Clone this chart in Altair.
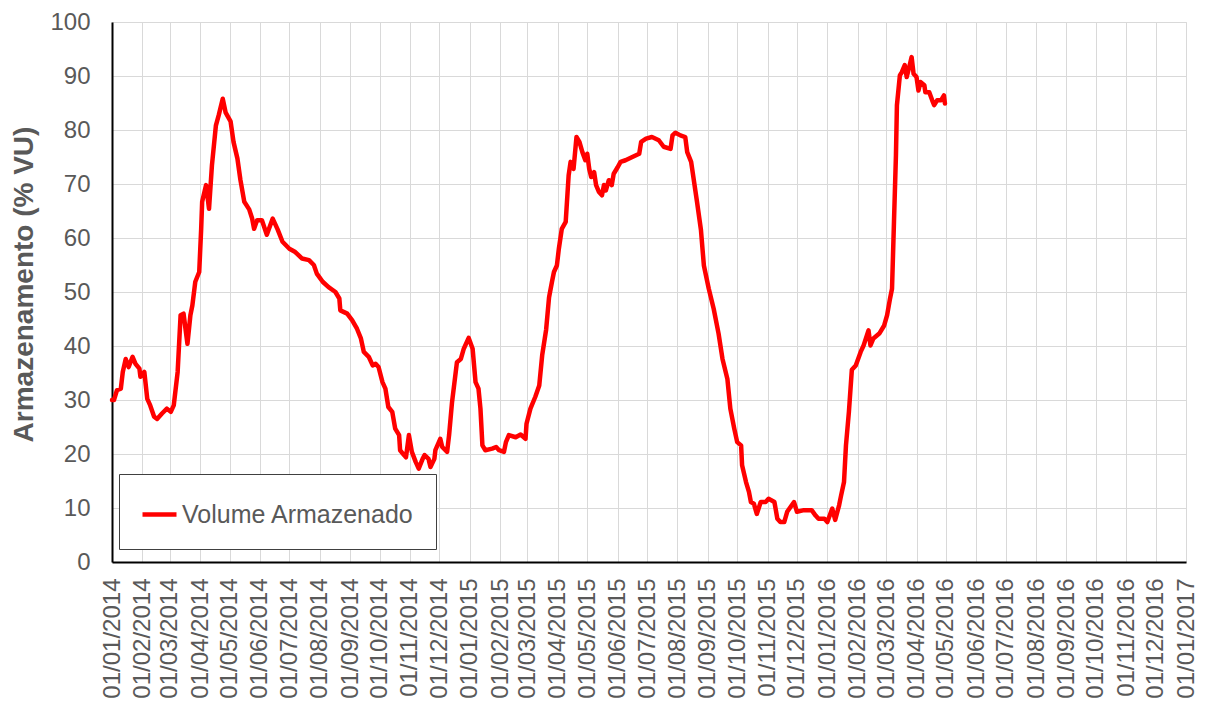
import altair as alt
import pandas as pd

dates_2014 = [
    "2014-01-01", "2014-01-03", "2014-01-06", "2014-01-10", "2014-01-12", "2014-01-15", "2014-01-18",
    "2014-01-22", "2014-01-25", "2014-01-29", "2014-01-30", "2014-02-03", "2014-02-06", "2014-02-09",
    "2014-02-13", "2014-02-16", "2014-02-21", "2014-02-26", "2014-03-02", "2014-03-05", "2014-03-09",
    "2014-03-12", "2014-03-15", "2014-03-19", "2014-03-22", "2014-03-24", "2014-03-27", "2014-03-31",
    "2014-04-02", "2014-04-03", "2014-04-07", "2014-04-10", "2014-04-13", "2014-04-17", "2014-04-20",
    "2014-04-24", "2014-04-27", "2014-05-02", "2014-05-05", "2014-05-09", "2014-05-12", "2014-05-16",
    "2014-05-21", "2014-05-24", "2014-05-26", "2014-05-29", "2014-06-03", "2014-06-08", "2014-06-14",
    "2014-06-19", "2014-06-24", "2014-07-01", "2014-07-07", "2014-07-14", "2014-07-21", "2014-07-26",
    "2014-07-29", "2014-08-04", "2014-08-10", "2014-08-17", "2014-08-21", "2014-08-22", "2014-08-29",
    "2014-09-03", "2014-09-08", "2014-09-12", "2014-09-15", "2014-09-20", "2014-09-24", "2014-09-27",
    "2014-09-30", "2014-10-04", "2014-10-07", "2014-10-10", "2014-10-14", "2014-10-17", "2014-10-21",
    "2014-10-22", "2014-10-26", "2014-10-28", "2014-10-31", "2014-11-03", "2014-11-07", "2014-11-10",
    "2014-11-14", "2014-11-16", "2014-11-20", "2014-11-22", "2014-11-26", "2014-11-27", "2014-12-02",
    "2014-12-04", "2014-12-09", "2014-12-11", "2014-12-14", "2014-12-19", "2014-12-23", "2014-12-26",
    "2014-12-31",
]
values_2014 = [
    30.0, 30.0, 31.8, 32.1, 35.2, 37.6, 36.1,
    38.0, 36.7, 35.8, 34.3, 35.2, 30.2, 29.0,
    26.9, 26.5, 27.5, 28.4, 27.8, 29.0, 35.2,
    45.7, 46.0, 40.4, 45.7, 47.5, 51.9, 53.7,
    61.7, 66.7, 69.8, 65.4, 73.5, 80.8, 82.8,
    85.8, 83.2, 81.6, 77.8, 74.7, 70.8, 66.7,
    65.3, 63.6, 61.7, 63.3, 63.3, 60.6, 63.6,
    61.6, 59.3, 58.0, 57.4, 56.2, 55.9, 55.0,
    53.4, 51.9, 50.9, 50.0, 48.8, 46.6, 46.0,
    44.8, 43.2, 41.4, 38.9, 38.0, 36.4, 36.7,
    36.1, 33.3, 32.1, 28.7, 27.8, 24.7, 23.5,
    20.7, 19.8, 19.4, 23.5, 20.4, 18.5, 17.3,
    19.1, 19.8, 19.1, 17.6, 19.1, 20.7, 22.8,
    21.3, 20.4, 23.5, 29.6, 37.0, 37.6, 39.5,
    41.5,
]

dates_2015 = [
    "2015-01-04", "2015-01-07", "2015-01-10", "2015-01-12", "2015-01-14", "2015-01-17", "2015-01-24",
    "2015-01-28", "2015-01-31", "2015-02-05", "2015-02-07", "2015-02-10", "2015-02-17", "2015-02-22",
    "2015-02-27", "2015-02-28", "2015-03-04", "2015-03-09", "2015-03-13", "2015-03-16", "2015-03-20",
    "2015-03-23", "2015-03-26", "2015-03-28", "2015-03-31", "2015-04-02", "2015-04-05", "2015-04-09",
    "2015-04-12", "2015-04-14", "2015-04-17", "2015-04-20", "2015-04-23", "2015-04-26", "2015-04-29",
    "2015-05-01", "2015-05-03", "2015-05-05", "2015-05-08", "2015-05-10", "2015-05-13", "2015-05-16",
    "2015-05-18", "2015-05-20", "2015-05-23", "2015-05-26", "2015-05-28", "2015-06-01", "2015-06-04",
    "2015-06-09", "2015-06-16", "2015-06-23", "2015-06-25", "2015-06-30", "2015-07-06", "2015-07-13",
    "2015-07-18", "2015-07-25", "2015-07-27", "2015-07-30", "2015-08-04", "2015-08-09", "2015-08-11",
    "2015-08-15", "2015-08-18", "2015-08-21", "2015-08-25", "2015-08-28", "2015-09-02", "2015-09-07",
    "2015-09-12", "2015-09-16", "2015-09-21", "2015-09-24", "2015-09-28", "2015-10-01", "2015-10-05",
    "2015-10-06", "2015-10-10", "2015-10-13", "2015-10-15", "2015-10-18", "2015-10-21", "2015-10-25",
    "2015-10-30", "2015-11-02", "2015-11-08", "2015-11-11", "2015-11-14", "2015-11-18", "2015-11-21",
    "2015-11-28", "2015-12-01", "2015-12-08", "2015-12-16", "2015-12-20", "2015-12-23", "2015-12-29",
]
values_2015 = [
    39.5, 33.3, 32.1, 28.4, 21.6, 20.7, 21.0,
    21.3, 20.7, 20.4, 22.2, 23.5, 23.1, 23.6,
    22.8, 25.6, 28.4, 30.6, 32.7, 38.3, 43.0,
    49.0, 51.9, 53.7, 54.9, 58.0, 61.7, 63.0,
    71.6, 74.1, 72.8, 78.7, 77.8, 75.9, 74.4,
    75.6, 72.8, 71.3, 72.2, 69.8, 68.5, 67.9,
    69.8, 68.8, 70.7, 69.8, 71.9, 73.1, 74.1,
    74.4, 75.0, 75.6, 77.8, 78.4, 78.7, 78.1,
    76.9, 76.5, 79.0, 79.5, 79.0, 78.7, 75.9,
    74.1, 70.4, 66.7, 61.5, 54.9, 50.6, 46.9,
    42.3, 37.6, 33.9, 28.4, 24.7, 22.2, 21.6,
    17.9, 14.8, 13.0, 11.1, 10.8, 8.9, 11.1,
    11.1, 11.7, 11.1, 8.0, 7.4, 7.4, 9.3,
    11.1, 9.3, 9.6, 9.6, 8.6, 8.0, 8.0,
]

dates_2016 = [
    "2016-01-01", "2016-01-06", "2016-01-09", "2016-01-13", "2016-01-15", "2016-01-18", "2016-01-20",
    "2016-01-23", "2016-01-26", "2016-01-30", "2016-02-04", "2016-02-07", "2016-02-12", "2016-02-14",
    "2016-02-17", "2016-02-23", "2016-02-28", "2016-03-02", "2016-03-05", "2016-03-07", "2016-03-09",
    "2016-03-11", "2016-03-12", "2016-03-15", "2016-03-17", "2016-03-20", "2016-03-22", "2016-03-25",
    "2016-03-27", "2016-03-29", "2016-04-01", "2016-04-03", "2016-04-05", "2016-04-09", "2016-04-10",
    "2016-04-14", "2016-04-17", "2016-04-19", "2016-04-22", "2016-04-26", "2016-04-29", "2016-04-30",
]
values_2016 = [
    7.4, 9.9, 7.8, 10.5, 12.3, 14.8, 21.6,
    27.8, 35.6, 36.4, 38.9, 40.1, 42.9, 40.1,
    41.4, 42.3, 43.8, 45.7, 48.8, 50.6, 63.0,
    75.3, 84.6, 90.1, 90.7, 92.0, 89.8, 92.0,
    93.5, 90.4, 89.8, 87.3, 88.9, 88.3, 87.0,
    87.0, 85.5, 84.6, 85.5, 85.5, 86.4, 84.9,
]

series_name = "Volume Armazenado"
y_title = "Armazenamento (% VU)"
y_ticks = list(range(0, 101, 10))
month_starts = pd.date_range("2014-01-01", "2017-01-01", freq="MS")

df = pd.DataFrame({
    "date": dates_2014 + dates_2015 + dates_2016,
    "value": values_2014 + values_2015 + values_2016,
})
df["serie"] = series_name

FONT = "Liberation Sans"
GRAY = "#595959"

x_ticks = [alt.DateTime(year=int(d.year), month=int(d.month), date=1, utc=True) for d in month_starts]

chart = alt.Chart(df).mark_line(strokeWidth=4.5, strokeJoin="round", strokeCap="round").encode(
    x=alt.X(
        "date:T",
        scale=alt.Scale(
            type="utc",
            domain=[alt.DateTime(year=2014, month=1, date=1, utc=True),
                    alt.DateTime(year=2017, month=1, date=1, utc=True)],
        ),
        axis=alt.Axis(
            values=x_ticks, format="%d/%m/%Y", labelAngle=270, labelAlign="right",
            labelBaseline="middle", labelPadding=16, tickSize=0, labelFontSize=24,
            labelFont=FONT, labelColor=GRAY, labelOverlap=False, labelFlush=False,
            title=None, domainColor="black", domainWidth=2, gridColor="#d9d9d9", gridWidth=1,
        ),
    ),
    y=alt.Y(
        "value:Q",
        scale=alt.Scale(domain=[0, 100], nice=False),
        axis=alt.Axis(
            values=y_ticks, tickSize=0, labelPadding=22, labelFontSize=24, labelFont=FONT,
            labelColor=GRAY, labelFlush=False, title=y_title, titleFont=FONT, titleFontSize=28,
            titleFontWeight="bold", titleColor=GRAY, titleAngle=270, titleX=-80, titleY=262,
            titleAlign="center", titleBaseline="alphabetic", domainColor="black", domainWidth=2,
            gridColor="#d9d9d9", gridWidth=1,
        ),
    ),
    color=alt.Color(
        "serie:N",
        scale=alt.Scale(domain=[series_name], range=["#ff0000"]),
        legend=alt.Legend(
            title=None, orient="none", legendX=7, legendY=452, symbolType="stroke",
            symbolSize=1156, symbolStrokeWidth=4.5, labelFont=FONT, labelFontSize=25,
            labelColor=GRAY, labelOffset=3, labelLimit=500, padding=21, strokeColor="#404040",
            fillColor="white", cornerRadius=0,
        ),
    ),
).properties(
    width=1074,
    height=540,
    autosize=alt.AutoSizeParams(type="none"),
    padding={"left": 104, "top": 14, "right": 11, "bottom": 138},
).configure_view(
    stroke="#404040", strokeWidth=1.5
).configure(background="white")

chart.save("out.html", embed_options={"renderer": "svg", "actions": False})
